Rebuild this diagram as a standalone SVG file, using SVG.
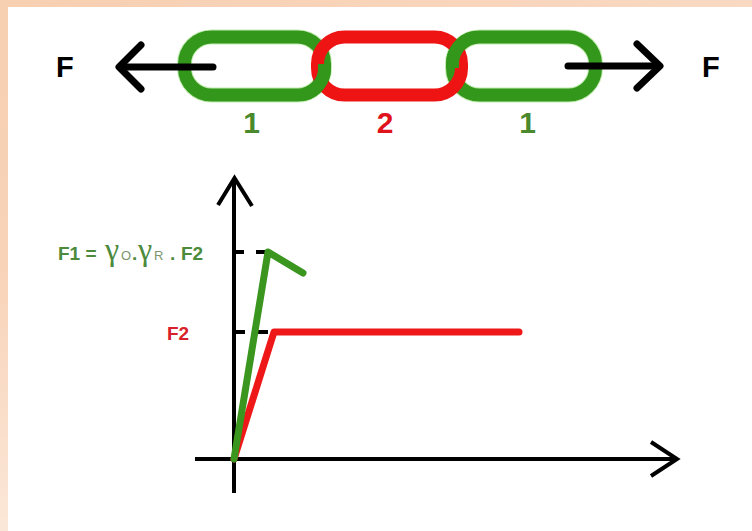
<svg xmlns="http://www.w3.org/2000/svg" width="752" height="531" viewBox="0 0 752 531">
  <defs>
    <linearGradient id="lb" x1="0" y1="0" x2="0" y2="1">
      <stop offset="0" stop-color="#f7cfb1"/>
      <stop offset="0.5" stop-color="#f8d3b8"/>
      <stop offset="1" stop-color="#fbe7d8"/>
    </linearGradient>
    <linearGradient id="tb" x1="0" y1="0" x2="1" y2="0">
      <stop offset="0" stop-color="#f7cfb1"/>
      <stop offset="1" stop-color="#f9d9c2"/>
    </linearGradient>
  </defs>
  <style>
    .gl { fill: none; stroke: #33971c; stroke-width: 13; }
    .rl { fill: none; stroke: #ee1414; stroke-width: 13; }
    .halo { fill: none; stroke: #9be07f; stroke-width: 15; opacity: 0.6; }
    .blk { fill: none; stroke: #000; stroke-linecap: round; stroke-linejoin: round; }
    .ax { fill: none; stroke: #000; stroke-width: 4; }
    .tick { fill: none; stroke: #000; stroke-width: 4; }
    .lab { font-family: "Liberation Sans", Arial, sans-serif; font-weight: bold; }
    .gam { font-family: "Liberation Serif", "Times New Roman", serif; font-size: 32px; font-weight: normal; }
    .sub { font-size: 13px; font-weight: normal; fill: #7a9470; }
  </style>
  <rect x="0" y="0" width="752" height="531" fill="#ffffff"/>
  <rect x="0" y="0" width="752" height="7" fill="url(#tb)"/>
  <rect x="0" y="0" width="8" height="531" fill="url(#lb)"/>

  <!-- chain links -->
  <g id="link1">
    <rect class="halo" x="184.5" y="37" width="140" height="58" rx="27"/>
    <rect class="gl" x="184.5" y="37" width="140" height="58" rx="27"/>
  </g>
  <g id="link3">
    <rect class="halo" x="452.5" y="37" width="143" height="58" rx="27"/>
    <rect class="gl" x="452.5" y="37" width="143" height="58" rx="27"/>
  </g>
  <g id="link2">
    <rect class="rl" x="317.5" y="37" width="144" height="58" rx="27"/>
    <!-- interlock overlaps -->
    <path class="gl" d="M324.5,64 L324.5,68 A27,27 0 0 1 304,94.5"/>
    <path class="gl" d="M452.5,68 L452.5,64 A27,27 0 0 1 473,37.5"/>
  </g>

  <!-- force labels -->
  <g id="force-left-label"><text class="lab" x="56" y="77" font-size="29" fill="#000">F</text></g>
  <g id="force-right-label"><text class="lab" x="702" y="77" font-size="29" fill="#000">F</text></g>

  <!-- link numbers -->
  <g id="link-labels" class="lab" font-size="30" text-anchor="middle">
    <text x="251.5" y="133" fill="#4a8a2c">1</text>
    <text x="385" y="133" fill="#e0121c">2</text>
    <text x="527.5" y="133" fill="#4a8a2c">1</text>
  </g>

  <!-- connectors: force arrows -->
  <g id="connectors">
    <line class="blk" x1="213" y1="67" x2="121" y2="67" stroke-width="7"/>
    <polyline class="blk" points="141,45 119,67 141,89" stroke-width="7"/>
    <line class="blk" x1="568" y1="66" x2="659" y2="66" stroke-width="7"/>
    <polyline class="blk" points="637,44 660,66 637,88" stroke-width="7"/>
  </g>

  <!-- graph axes -->
  <g id="axes">
    <line class="ax" x1="234" y1="179" x2="234" y2="493"/>
    <polyline class="ax" points="218,205 234.5,178 252,206" stroke-linejoin="miter"/>
    <line class="ax" x1="195" y1="459" x2="676" y2="459"/>
    <polyline class="ax" points="651,442 677,459 651,476"/>
    <line class="tick" x1="234" y1="252" x2="244" y2="252"/>
    <line class="tick" x1="256" y1="252" x2="266" y2="252"/>
    <line class="tick" x1="234" y1="332" x2="245" y2="332"/>
    <line class="tick" x1="257" y1="332" x2="268" y2="332"/>
  </g>

  <!-- curves -->
  <g id="curve-F2">
    <polyline points="234,459 274,332 519,332" fill="none" stroke="#ee1818" stroke-width="7" stroke-linecap="round" stroke-linejoin="round"/>
  </g>
  <g id="curve-F1">
    <polyline points="234,459 268,252 303,273" fill="none" stroke="#3a961e" stroke-width="7" stroke-linecap="round" stroke-linejoin="round"/>
  </g>

  <!-- axis labels -->
  <g id="label-F1">
    <text y="260" fill="#4c8a3c" font-family="Liberation Sans, Arial, sans-serif" font-weight="bold" font-size="19">
      <tspan x="58">F1 =</tspan>
      <tspan x="105" class="gam">γ</tspan>
      <tspan x="121" class="sub">O</tspan>
      <tspan x="132">.</tspan>
      <tspan x="138" class="gam">γ</tspan>
      <tspan x="154" class="sub">R</tspan>
      <tspan x="170">.</tspan>
      <tspan x="181">F2</tspan>
    </text>
  </g>
  <g id="label-F2">
    <text class="lab" x="167" y="340" font-size="19" fill="#d8202a">F2</text>
  </g>
</svg>
